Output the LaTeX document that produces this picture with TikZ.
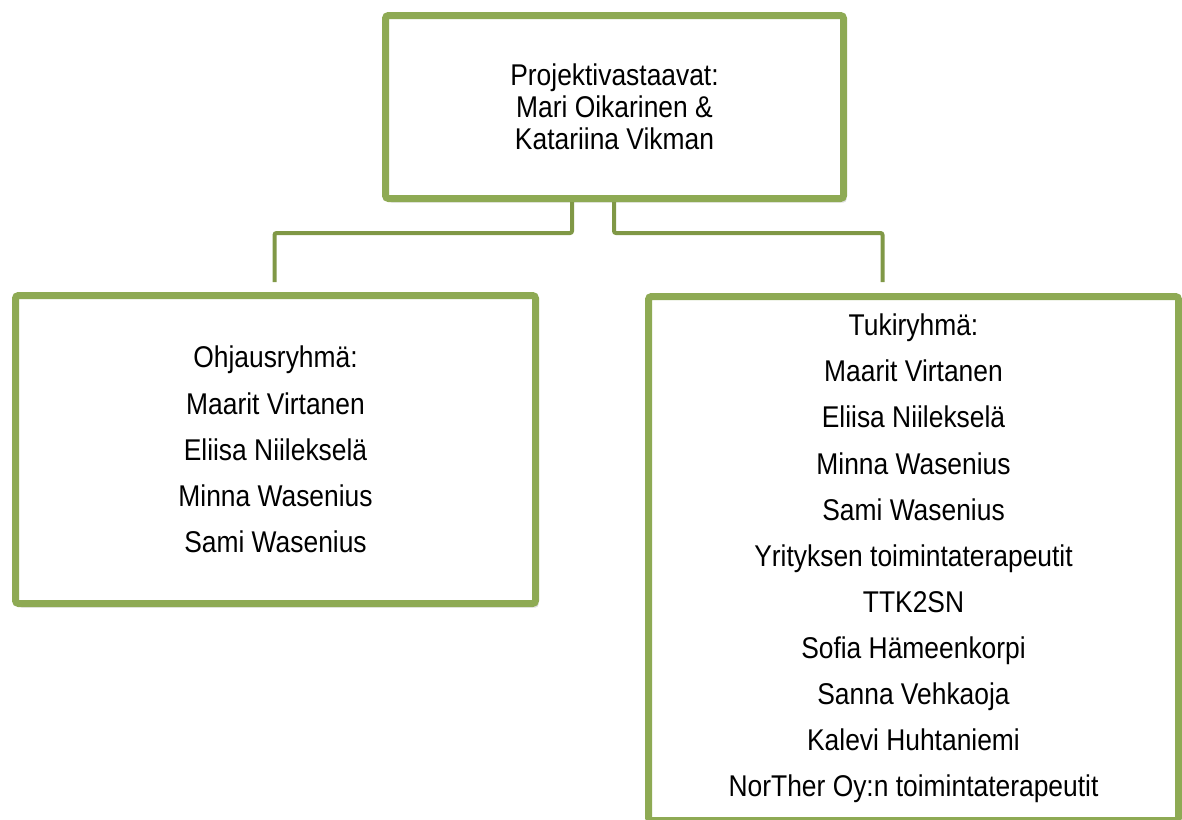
\documentclass[tikz,border=0pt]{standalone}
\usepackage{fontspec}
\setmainfont{Liberation Sans}[FakeStretch=0.88]
\usetikzlibrary{shadows}
\definecolor{boxgreen}{RGB}{142,170,84}
\definecolor{linkgreen}{RGB}{128,152,70}

\begin{document}
\begin{tikzpicture}[x=0.5pt,y=-0.5pt,
        box/.style={
          draw=boxgreen, line width=3.5pt, fill=white, rounded corners=1.5pt,
          align=center, inner sep=0pt,
          drop shadow={opacity=0.25, shadow xshift=1.5pt, shadow yshift=-2pt}
        },
        link/.style={
          draw=linkgreen, line width=2pt, rounded corners=1pt
        }
      ]
      \useasboundingbox (0,0) rectangle (1182,819);
      \node [box, minimum width=229pt, minimum height=91.5pt,
        font=\fontsize{15}{16}\selectfont] (lead) at (614.5,107)
        {Projektivastaavat:\\Mari Oikarinen \&\\Katariina Vikman};
      \node [box, minimum width=260pt, minimum height=154pt,
        font=\fontsize{15}{23.1}\selectfont] (steer) at (275.5,449.5)
        {Ohjausryhmä:\\Maarit Virtanen\\Eliisa Niilekselä\\Minna Wasenius\\Sami Wasenius};
      \node [box, minimum width=265pt, minimum height=262pt,
        font=\fontsize{15}{23.05}\selectfont] (support) at (913.5,558.5)
        {Tukiryhmä:\\Maarit Virtanen\\Eliisa Niilekselä\\Minna Wasenius\\Sami Wasenius\\
         Yrityksen toimintaterapeutit\\TTK2SN\\Sofia Hämeenkorpi\\Sanna Vehkaoja\\
         Kalevi Huhtaniemi\\NorTher Oy:n toimintaterapeutit};
      \coordinate (jl) at (572,233);
      \coordinate (jr) at (614,233);
      \coordinate (el) at (274.5,282);
      \coordinate (er) at (882.5,282);
      \draw [link] (lead.south -| jl) -- (jl) -| (el);
      \draw [link] (lead.south -| jr) -- (jr) -| (er);
    \end{tikzpicture}
\end{document}
